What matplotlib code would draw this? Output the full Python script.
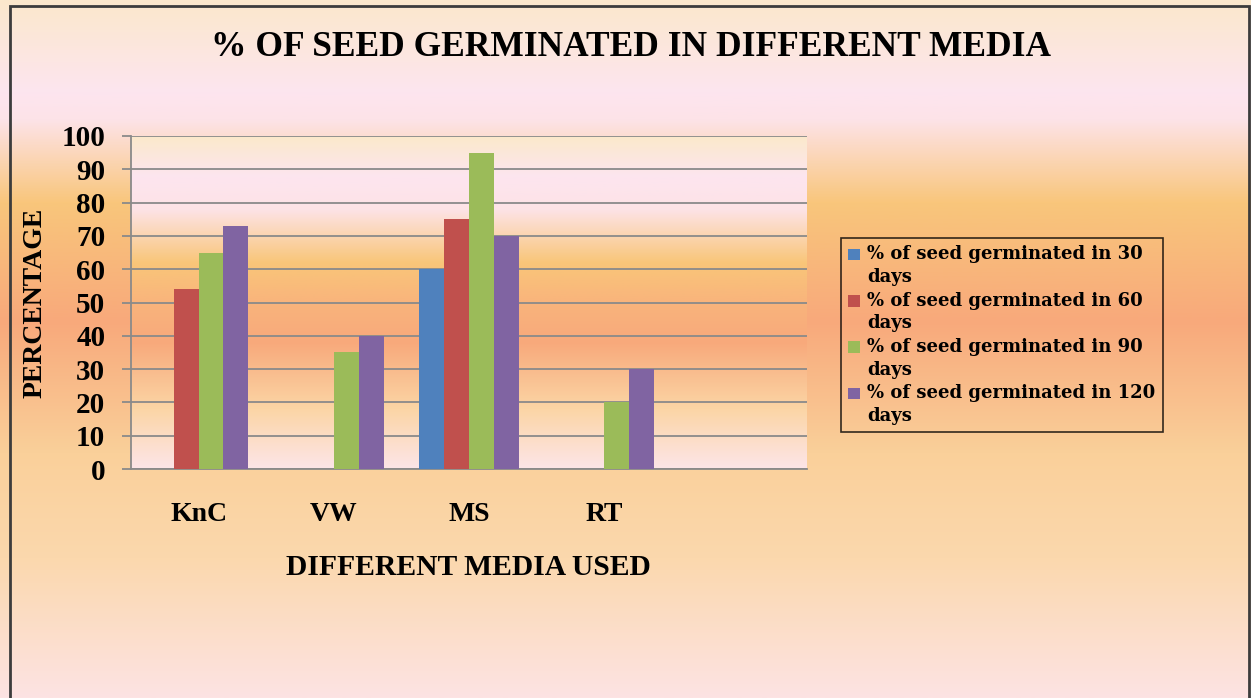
import numpy as np
import matplotlib
matplotlib.use("Agg")
import matplotlib.pyplot as plt
from matplotlib.colors import LinearSegmentedColormap
from matplotlib.patches import Rectangle
from matplotlib.legend_handler import HandlerPatch

# data
media = ["KnC", "VW", "MS", "RT", ""]
series_names = [
    "% of seed germinated in 30\ndays",
    "% of seed germinated in 60\ndays",
    "% of seed germinated in 90\ndays",
    "% of seed germinated in 120\ndays",
]
days_30 = [0, 0, 60, 0, 0]
days_60 = [54, 0, 75, 0, 0]
days_90 = [65, 35, 95, 20, 0]
days_120 = [73, 40, 70, 30, 0]
colors = ["#4f81bd", "#c0504d", "#9bbb59", "#8064a2"]

plt.rcParams["font.family"] = ["Liberation Serif", "DejaVu Serif"]
plt.rcParams["font.weight"] = "bold"

W, H = 1251, 698
fig = plt.figure(figsize=(W / 100, H / 100), dpi=100)

# figure background gradient + frame
bg_cmap = LinearSegmentedColormap.from_list("bg", [
    (0.00, "#fbe8cc"), (0.13, "#fde5ef"), (0.17, "#fde3e8"),
    (0.29, "#f9c67b"), (0.46, "#f8a97b"), (0.65, "#fad09a"),
    (0.80, "#fbd8ad"), (1.00, "#fde3e3")])
bg = fig.add_axes([0, 0, 1, 1], zorder=-10)
bg.imshow(np.linspace(0, 1, 256).reshape(-1, 1), cmap=bg_cmap,
          aspect="auto", extent=(0, 1, 0, 1), origin="upper")
bg.set_xlim(0, 1)
bg.set_ylim(0, 1)
bg.axis("off")
bg.add_patch(Rectangle((10 / W, -0.05), (1249 - 10) / W, 1 - 6 / H + 0.05,
                       fill=False, edgecolor="#3c3c3c", linewidth=2))

# plot area
ax = fig.add_axes([131 / W, 1 - 469 / H, 676 / W, 333 / H])
ax.set_facecolor("none")
plot_cmap = LinearSegmentedColormap.from_list("plot", [
    (0.00, "#fbe9cb"), (0.12, "#fde5ef"), (0.22, "#fde3e6"),
    (0.38, "#f9c679"), (0.50, "#f9b47c"), (0.62, "#f8a97b"),
    (0.82, "#fbd5a5"), (1.00, "#fde5e8")])
ax.imshow(np.linspace(0, 1, 256).reshape(-1, 1), cmap=plot_cmap,
          aspect="auto", extent=(-0.5, len(media) - 0.5, 0, 100),
          origin="upper", zorder=0)

x = np.arange(len(media))
width = 0.184
all_series = [days_30, days_60, days_90, days_120]
handles = []
for i, (vals, name, c) in enumerate(zip(all_series, series_names, colors)):
    b = ax.bar(x + (i - 1.5) * width, vals, width, color=c, label=name, zorder=3)
    handles.append(b)

ax.set_xlim(-0.5, len(media) - 0.5)
ax.set_ylim(0, 100)
ax.set_yticks(range(0, 101, 10))
ax.set_xticks(x)
ax.set_xticklabels(media)
ax.yaxis.grid(True, color="#8a8a8a", linewidth=1.3, zorder=1)
ax.set_axisbelow(True)
for s in ["top", "right"]:
    ax.spines[s].set_visible(False)
for s in ["left", "bottom"]:
    ax.spines[s].set_color("#8a8a8a")
    ax.spines[s].set_linewidth(1.3)
ax.tick_params(axis="y", length=6.5, width=1.3, color="#8a8a8a", pad=12,
               labelsize=21)
ax.tick_params(axis="x", length=0, pad=24, labelsize=20)

ax.set_xlabel("DIFFERENT MEDIA USED", fontsize=21.3, fontweight="bold")
ax.xaxis.set_label_coords(0.4985, -0.297)
ax.xaxis.label.set_va("center")
ax.set_ylabel("PERCENTAGE", fontsize=20, fontweight="bold")
ax.yaxis.set_label_coords(-0.142, 0.4985)
ax.yaxis.label.set_va("center")

fig.text(631 / W, 1 - 48 / H, "% OF SEED GERMINATED IN DIFFERENT MEDIA",
         ha="center", va="center", fontsize=25.5, fontweight="bold")

LEG_FS = 13
LEG_LS = 1.35


# legend swatch next to the first line of each two-line label
def top_patch(legend, orig_handle, xdescent, ydescent, width, height, fontsize):
    s = fontsize * 0.65
    shift = 0.5 * fontsize * 1.17 * LEG_LS * 0.83
    return Rectangle((-xdescent, -ydescent + (height - s) / 2 + shift), s, s)


leg = ax.legend([h[0] for h in handles], series_names,
                loc="upper left", bbox_to_anchor=(841 / W, 1 - 238 / H),
                bbox_transform=fig.transFigure,
                prop={"family": "DejaVu Serif", "weight": "bold", "size": LEG_FS},
                frameon=True, fancybox=False, borderpad=0.4,
                labelspacing=0.3, handlelength=0.7, handletextpad=0.35,
                borderaxespad=0,
                handler_map={Rectangle: HandlerPatch(patch_func=top_patch)})
leg.get_frame().set_edgecolor("black")
leg.get_frame().set_facecolor("none")
leg.get_frame().set_linewidth(1.2)
for t in leg.get_texts():
    t.set_linespacing(LEG_LS)

fig.savefig("out.png", dpi=100)
